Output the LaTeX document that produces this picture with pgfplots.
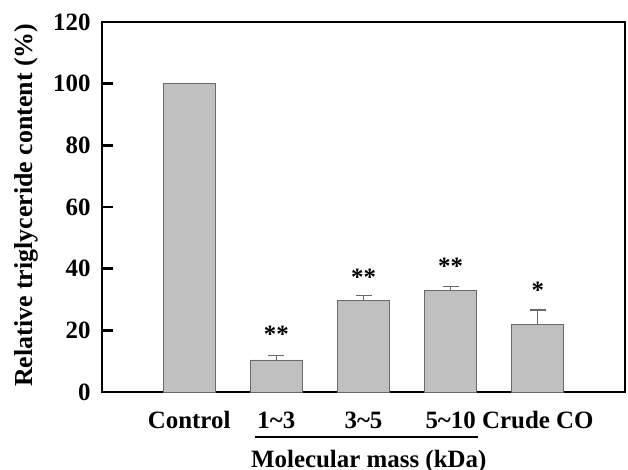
\documentclass[border=0pt]{standalone}
\usepackage{pgfplots}
\usepackage{pgfplotstable}
\pgfplotsset{compat=1.18}
\usepackage{fontspec}
\setmainfont{Liberation Serif}
\definecolor{barfill}{RGB}{192,192,192}
\definecolor{baredge}{RGB}{105,105,105}
\pgfplotstableread{
x y err
1 10.4 1.4
2 29.8 1.6
3 32.8 1.4
4 22.0 4.6
}\datatab
\newcommand{\bigf}{\fontsize{25}{29}\selectfont\bfseries}
\begin{document}
\begin{tikzpicture}
\begin{axis}[
  scale only axis, width=523bp, height=370bp,
  xmin=-1, xmax=5, ymin=0, ymax=120,
  ytick={0,20,...,120},
  xtick={0,1,2,3,4},
  xticklabels={Control,1\textasciitilde 3,3\textasciitilde 5,5\textasciitilde 10,Crude CO},
  /pgf/number format/assume math mode=true,
  tick label style={font=\bigf},
  xticklabel style={anchor=base, yshift=-25bp},
  yticklabel shift=8bp,
  tick align=inside,
  ytick pos=left,
  xtick pos=bottom,
  x tick style={draw=none},
  y tick style={line width=2.5bp, black},
  major tick length=11bp,
  axis line style={line width=2.5bp},
  clip=false,
  ybar, bar width=52bp, bar shift=0pt,
]
\addplot[fill=barfill, draw=baredge, line width=0.8bp] coordinates {(0,100)};
\addplot[fill=barfill, draw=baredge, line width=0.8bp,
  error bars/.cd, y dir=plus, y explicit,
  error bar style={line width=1.2bp, color=baredge},
  error mark options={line width=1.2bp, color=baredge, mark size=8bp, rotate=90}]
  table[x=x, y=y, y error=err] {\datatab};
\node[anchor=base, font=\bigf] at (axis cs:1,16.2) {**};
\node[anchor=base, font=\bigf] at (axis cs:2,34.7) {**};
\node[anchor=base, font=\bigf] at (axis cs:3,38.0) {**};
\node[anchor=base, font=\bigf] at (axis cs:4,30.2) {*};
\draw[line width=2.5bp] ([yshift=-45bp]axis cs:0.75,0) -- ([yshift=-45bp]axis cs:3.31,0);
\node[anchor=base, font=\bigf] at ([yshift=-75bp]axis cs:2.06,0) {Molecular mass (kDa)};
\node[rotate=90, anchor=base, font=\fontsize{26}{30}\selectfont\bfseries] at ([xshift=-69bp]rel axis cs:0,0.505) {Relative triglyceride content (\%)};
\coordinate (sw) at (rel axis cs:0,0);
\coordinate (ne) at (rel axis cs:1,1);
\end{axis}
\pgfresetboundingbox
\useasboundingbox ([xshift=-102bp,yshift=-77bp]sw) rectangle ([xshift=3bp,yshift=22bp]ne);
\end{tikzpicture}
\end{document}
